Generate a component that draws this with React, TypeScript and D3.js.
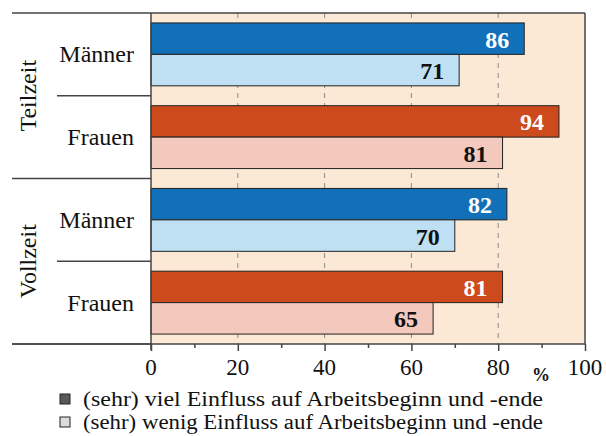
import React, { useEffect, useRef } from 'react';
import * as d3 from 'd3';

const groups = ['Teilzeit', 'Vollzeit'];
const subgroups = ['Männer', 'Frauen'];
const seriesNames = [
  '(sehr) viel Einfluss auf Arbeitsbeginn und -ende',
  '(sehr) wenig Einfluss auf Arbeitsbeginn und -ende',
];
// rows: Teilzeit Männer, Teilzeit Frauen, Vollzeit Männer, Vollzeit Frauen
const viel = [86, 94, 82, 81];
const wenig = [71, 81, 70, 65];
const xTicks = [0, 20, 40, 60, 80, 100];

const App = () => {
  const svgRef = useRef<SVGSVGElement>(null);

  useEffect(() => {
    const svg = d3.select(svgRef.current);
    svg.selectAll('*').remove();

    const width = 606;
    const height = 436;
    const left = 151, right = 585, top = 13, bottom = 344;
    const font = "'Liberation Serif', 'Times New Roman', Times, 'DejaVu Serif', serif";

    const rows = groups.flatMap((g) => subgroups.map((s) => `${g}|${s}`));

    const x = d3.scaleLinear().domain([0, 100]).range([left, right]);
    const y = d3.scaleBand().domain(rows).range([top, bottom]).paddingInner(0.24).paddingOuter(0.12);
    const yRow = d3.scaleBand().domain(rows).range([top, bottom]);
    const yGroup = d3.scaleBand().domain(groups).range([top, bottom]);

    const dark = ['#1170b8', '#cd4a1d'];
    const light = ['#bfe0f3', '#f4c9bd'];

    // background
    svg.append('rect')
      .attr('x', left).attr('y', top)
      .attr('width', right - left).attr('height', bottom - top)
      .attr('fill', '#fbe9d6');

    // grid
    svg.append('g').selectAll('line')
      .data([20, 40, 60, 80])
      .enter().append('line')
      .attr('x1', (d) => x(d)).attr('x2', (d) => x(d))
      .attr('y1', top).attr('y2', bottom)
      .attr('stroke', '#8a8a8a')
      .attr('stroke-dasharray', '5,5')
      .attr('stroke-width', 1);

    // bars
    const bh = y.bandwidth() / 2;
    rows.forEach((r, i) => {
      const si = i % 2;
      const y0 = y(r)!;
      const items = [
        { v: viel[i], fill: dark[si], text: '#fff', yy: y0 },
        { v: wenig[i], fill: light[si], text: '#111', yy: y0 + bh },
      ];
      items.forEach((it) => {
        svg.append('rect')
          .attr('x', x(0)).attr('y', it.yy)
          .attr('width', x(it.v) - x(0)).attr('height', bh)
          .attr('fill', it.fill)
          .attr('stroke', '#222').attr('stroke-width', 1);
        svg.append('text')
          .attr('x', x(it.v) - 15).attr('y', it.yy + bh / 2 + 9)
          .attr('text-anchor', 'end')
          .attr('font-family', font).attr('font-weight', 'bold')
          .attr('font-size', 24)
          .attr('fill', it.text)
          .text(it.v);
      });
    });

    // frame
    const frame = '#444';
    svg.append('line').attr('x1', 12).attr('x2', right).attr('y1', top).attr('y2', top)
      .attr('stroke', frame).attr('stroke-width', 1.5);
    svg.append('line').attr('x1', right).attr('x2', right).attr('y1', top).attr('y2', bottom)
      .attr('stroke', frame).attr('stroke-width', 1.5);
    svg.append('line').attr('x1', left).attr('x2', left).attr('y1', top).attr('y2', bottom + 6)
      .attr('stroke', frame).attr('stroke-width', 1.5);

    // separators in label area
    groups.forEach((g) => {
      const g0 = yGroup(g)!;
      svg.append('line')
        .attr('x1', 12).attr('x2', left)
        .attr('y1', g0 + yGroup.bandwidth()).attr('y2', g0 + yGroup.bandwidth())
        .attr('stroke', frame).attr('stroke-width', 1.5);
      svg.append('line')
        .attr('x1', 57).attr('x2', left)
        .attr('y1', g0 + yGroup.bandwidth() / 2).attr('y2', g0 + yGroup.bandwidth() / 2)
        .attr('stroke', frame).attr('stroke-width', 1.5);
      svg.append('text')
        .attr('transform', `translate(36,${g0 + yGroup.bandwidth() / 2}) rotate(-90)`)
        .attr('text-anchor', 'middle')
        .attr('font-family', font).attr('font-size', 24)
        .attr('fill', '#111')
        .text(g);
    });

    rows.forEach((r, i) => {
      svg.append('text')
        .attr('x', 134).attr('y', yRow(r)! + yRow.bandwidth() / 2 + 8)
        .attr('text-anchor', 'end')
        .attr('font-family', font).attr('font-size', 24)
        .attr('fill', '#111')
        .text(subgroups[i % 2]);
    });

    // x axis
    const axis = d3.axisBottom(x)
      .tickValues(d3.range(0, 101, 10))
      .tickSize(0)
      .tickFormat(() => '');
    const ax = svg.append('g').attr('transform', `translate(0,${bottom})`).call(axis);
    ax.select('.domain').remove();
    ax.selectAll('.tick line')
      .attr('y2', (d: any) => (d % 20 === 0 ? 7 : 4))
      .attr('stroke', frame).attr('stroke-width', 1.5);
    svg.append('line').attr('x1', 12).attr('x2', right).attr('y1', bottom).attr('y2', bottom)
      .attr('stroke', frame).attr('stroke-width', 1.5);

    svg.append('g').selectAll('text')
      .data(xTicks)
      .enter().append('text')
      .attr('x', (d) => x(d)).attr('y', 375)
      .attr('text-anchor', 'middle')
      .attr('font-family', font).attr('font-size', 23)
      .attr('fill', '#111')
      .text((d) => d);
    svg.append('text')
      .attr('x', 541).attr('y', 381)
      .attr('text-anchor', 'middle')
      .attr('font-family', font).attr('font-size', 18).attr('font-weight', 'bold')
      .attr('fill', '#111')
      .text('%');

    // legend
    const legendFill = ['#5a5a5a', '#dcdcdc'];
    seriesNames.forEach((s, i) => {
      const ly = 406 + i * 23;
      svg.append('rect')
        .attr('x', 60).attr('y', ly - 12)
        .attr('width', 10).attr('height', 10)
        .attr('fill', legendFill[i])
        .attr('stroke', '#222').attr('stroke-width', 1);
      svg.append('text')
        .attr('x', 83).attr('y', ly)
        .attr('font-family', font).attr('font-size', 20)
        .attr('textLength', 460).attr('lengthAdjust', 'spacingAndGlyphs')
        .attr('fill', '#111')
        .text(s);
    });

    svg.attr('width', width).attr('height', height);
  }, []);

  return (
    <svg
      ref={svgRef}
      width={606}
      height={436}
      style={{ position: 'absolute', left: 0, top: 0, background: '#fff' }}
    />
  );
};

export default App;
